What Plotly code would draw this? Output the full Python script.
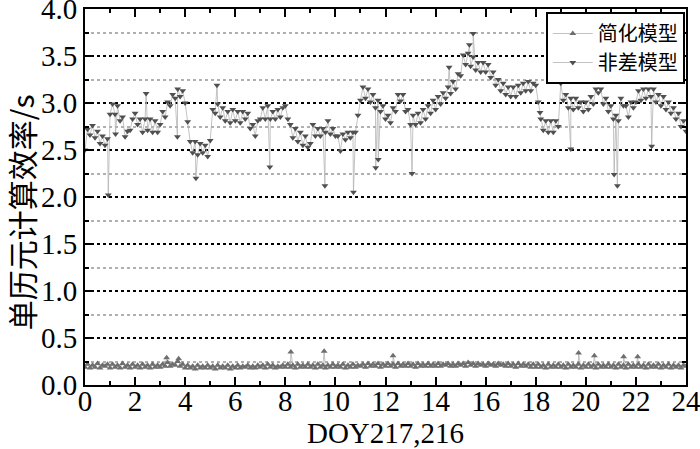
import plotly.graph_objects as go

# 时间轴 (小时), 0.1 h 间隔
hours = [round(i * 0.1, 1) for i in range(241)]

# 非差模型 单历元计算时间 (s)
undiff_vals = [
    2.50, 2.72, 2.66, 2.76, 2.63, 2.70, 2.57, 2.65, 2.55, 2.62,
    2.88, 2.99, 2.88, 2.97, 2.81, 2.85, 2.64, 2.70, 2.71, 2.83,
    2.89, 2.77, 2.83, 2.69, 2.83, 2.71, 2.83, 2.69, 2.81, 2.69,
    2.77, 2.91, 2.85, 3.01, 2.97, 3.09, 3.05, 3.15, 3.07, 3.13,
    3.00, 2.80, 2.59, 2.47, 2.59, 2.45, 2.57, 2.47, 2.55, 2.43,
    2.60, 2.93, 2.89, 2.99, 2.85, 2.95, 2.81, 2.91, 2.79, 2.93,
    2.81, 2.91, 2.79, 2.91, 2.83, 2.89, 2.73, 2.77, 2.65, 2.81,
    2.83, 2.95, 2.83, 2.97, 2.83, 2.91, 2.83, 2.93, 2.85, 2.95,
    2.97, 2.83, 2.77, 2.63, 2.73, 2.59, 2.69, 2.55, 2.65, 2.53,
    2.57, 2.77, 2.65, 2.73, 2.65, 2.73, 2.69, 2.81, 2.67, 2.73,
    2.65, 2.65, 2.49, 2.67, 2.61, 2.69, 2.63, 2.69, 2.69, 2.87,
    3.03, 3.17, 3.05, 3.15, 3.01, 3.09, 2.95, 3.03, 2.91, 2.97,
    2.83, 2.87, 2.79, 2.95, 2.91, 3.09, 3.02, 3.09, 2.91, 2.93,
    2.77, 2.87, 2.77, 2.89, 2.79, 2.93, 2.83, 2.97, 2.89, 3.03,
    2.93, 3.07, 2.99, 3.11, 3.05, 3.17, 3.10, 3.23, 3.15, 3.31,
    3.29, 3.51, 3.41, 3.53, 3.39, 3.49, 3.35, 3.43, 3.33, 3.43,
    3.33, 3.41, 3.27, 3.33, 3.19, 3.25, 3.13, 3.21, 3.09, 3.17,
    3.07, 3.17, 3.07, 3.19, 3.11, 3.21, 3.13, 3.23, 3.13, 3.21,
    3.19, 3.01, 2.83, 2.71, 2.81, 2.69, 2.81, 2.69, 2.81, 2.75,
    3.21, 3.03, 3.09, 2.95, 3.05, 2.93, 3.05, 2.95, 3.01, 2.91,
    3.01, 2.93, 3.07, 2.99, 3.15, 3.11, 3.15, 2.99, 3.05, 2.91,
    2.97, 2.83, 2.87, 2.81, 3.05, 2.97, 2.97, 2.85, 3.01, 2.95,
    3.01, 3.13, 3.03, 3.15, 3.05, 3.15, 3.07, 3.15, 3.01, 3.09,
    2.97, 3.07, 2.93, 3.01, 2.89, 2.95, 2.83, 2.89, 2.75, 2.81,
    2.70,
]
# 非差模型 个别历元的跳变
undiff_spike_t = [0.93, 1.22, 2.44, 3.69, 4.43, 5.27, 7.38, 9.58, 10.72, 11.61,
                  11.71, 13.06, 14.54, 15.35, 15.50, 18.17, 19.40, 21.13, 21.26, 22.63]
undiff_spike_v = [2.02, 2.67, 3.10, 2.64, 2.20, 3.19, 2.32, 2.12, 2.05, 2.31,
                  2.40, 2.25, 3.38, 3.62, 3.74, 2.90, 2.51, 2.24, 2.12, 2.54]

# 简化模型 单历元计算时间 (s)
simple_vals = [
    0.19, 0.22, 0.18, 0.21, 0.19, 0.23, 0.18, 0.21, 0.20, 0.22,
    0.18, 0.22, 0.19, 0.21, 0.18, 0.23, 0.19, 0.21, 0.18, 0.22,
    0.19, 0.21, 0.18, 0.22, 0.19, 0.21, 0.18, 0.22, 0.19, 0.21,
    0.19, 0.22, 0.20, 0.24, 0.20, 0.22, 0.21, 0.25, 0.20, 0.22,
    0.18, 0.21, 0.18, 0.20, 0.17, 0.21, 0.18, 0.20, 0.18, 0.21,
    0.18, 0.20, 0.17, 0.21, 0.18, 0.20, 0.18, 0.21, 0.17, 0.20,
    0.18, 0.21, 0.18, 0.20, 0.19, 0.21, 0.18, 0.20, 0.18, 0.21,
    0.19, 0.21, 0.18, 0.22, 0.19, 0.21, 0.18, 0.20, 0.19, 0.21,
    0.19, 0.22, 0.19, 0.21, 0.18, 0.22, 0.19, 0.21, 0.19, 0.22,
    0.19, 0.21, 0.18, 0.22, 0.19, 0.21, 0.18, 0.21, 0.19, 0.22,
    0.19, 0.21, 0.19, 0.22, 0.18, 0.21, 0.19, 0.22, 0.19, 0.21,
    0.20, 0.22, 0.19, 0.23, 0.20, 0.22, 0.20, 0.23, 0.19, 0.22,
    0.20, 0.23, 0.20, 0.22, 0.19, 0.23, 0.20, 0.22, 0.20, 0.23,
    0.20, 0.22, 0.19, 0.23, 0.20, 0.22, 0.20, 0.23, 0.20, 0.22,
    0.20, 0.23, 0.20, 0.22, 0.21, 0.23, 0.20, 0.22, 0.20, 0.23,
    0.21, 0.23, 0.20, 0.24, 0.21, 0.23, 0.20, 0.23, 0.21, 0.22,
    0.20, 0.23, 0.21, 0.22, 0.20, 0.23, 0.21, 0.22, 0.20, 0.23,
    0.20, 0.22, 0.19, 0.23, 0.20, 0.22, 0.20, 0.22, 0.19, 0.22,
    0.19, 0.22, 0.19, 0.21, 0.18, 0.22, 0.19, 0.21, 0.19, 0.22,
    0.19, 0.21, 0.18, 0.22, 0.19, 0.21, 0.19, 0.22, 0.18, 0.21,
    0.19, 0.22, 0.19, 0.21, 0.18, 0.22, 0.19, 0.21, 0.19, 0.22,
    0.19, 0.21, 0.18, 0.22, 0.19, 0.21, 0.18, 0.22, 0.19, 0.21,
    0.19, 0.22, 0.19, 0.21, 0.18, 0.22, 0.19, 0.21, 0.19, 0.22,
    0.18, 0.21, 0.19, 0.22, 0.18, 0.21, 0.19, 0.21, 0.18, 0.21,
    0.20,
]
simple_spike_t = [3.26, 3.74, 8.22, 9.55, 12.30, 19.71, 20.34, 21.51, 22.07]
simple_spike_v = [0.29, 0.28, 0.35, 0.36, 0.31, 0.34, 0.31, 0.30, 0.30]

y_ticks = [0.0, 0.5, 1.0, 1.5, 2.0, 2.5, 3.0, 3.5, 4.0]
x_ticks = list(range(0, 25, 2))


def merge(t, v, st, sv):
    """把跳变历元按时间插入序列"""
    pts = sorted(zip(list(t) + list(st), list(v) + list(sv)))
    return [p[0] for p in pts], [p[1] for p in pts]


fig = go.Figure()

sx, sy = merge(hours, simple_vals, simple_spike_t, simple_spike_v)
fig.add_trace(go.Scatter(
    x=sx, y=sy, mode="lines+markers", name="简化模型",
    line=dict(color="#b4b4b4", width=0.8),
    marker=dict(symbol="triangle-up", size=6, color="#6e6e6e"),
))

ux, uy = merge(hours, undiff_vals, undiff_spike_t, undiff_spike_v)
fig.add_trace(go.Scatter(
    x=ux, y=uy, mode="lines+markers", name="非差模型",
    line=dict(color="#b4b4b4", width=0.8),
    marker=dict(symbol="triangle-down", size=6, color="#505050"),
))

tick_font = dict(family="Liberation Serif, Times New Roman, serif", size=29, color="black")

fig.update_layout(
    width=700, height=449,
    margin=dict(l=85, r=14, t=9, b=64),
    paper_bgcolor="white", plot_bgcolor="white",
    showlegend=True,
    legend=dict(
        x=0.998, y=0.992, xanchor="right", yanchor="top",
        bordercolor="black", borderwidth=2, bgcolor="white",
        font=dict(family="Noto Sans CJK SC", size=20, color="black"),
        tracegroupgap=0, itemwidth=40,
    ),
    xaxis=dict(
        range=[0, 24], tickvals=x_ticks, showgrid=False, zeroline=False, automargin=False,
        showline=True, linecolor="black", linewidth=2, mirror="ticks",
        ticks="inside", ticklen=8, tickwidth=2, tickcolor="black",
        minor=dict(dtick=1, ticks="inside", ticklen=4, tickwidth=2, tickcolor="black"),
        tickfont=tick_font, ticklabeloverflow="allow", ticklabelstandoff=-11,
        title=dict(text="DOY217,216", font=tick_font, standoff=0),
    ),
    yaxis=dict(
        range=[0, 4], tickvals=y_ticks, tickformat=".1f", zeroline=False, automargin=False,
        showgrid=True, gridcolor="black", gridwidth=2, griddash="dot",
        showline=True, linecolor="black", linewidth=2, mirror="ticks",
        ticks="inside", ticklen=8, tickwidth=2, tickcolor="black",
        minor=dict(dtick=0.25, ticks="inside", ticklen=4, tickwidth=2, tickcolor="black",
                   showgrid=True, gridcolor="#b0b0b0", gridwidth=2, griddash="dot"),
        tickfont=tick_font, ticklabeloverflow="allow",
    ),
    annotations=[dict(
        text="单历元计算效率/s", textangle=-90, showarrow=False,
        xref="paper", yref="paper", x=-0.106, y=0.46,
        xanchor="center", yanchor="middle",
        font=dict(family="Noto Sans CJK SC", size=30, color="black"),
    )],
)

# 去掉页面默认的 body 边距, 让图正好占满窗口
fig.write_html("out.html", config={"displayModeBar": False},
               post_script="document.body.style.margin='0';")
